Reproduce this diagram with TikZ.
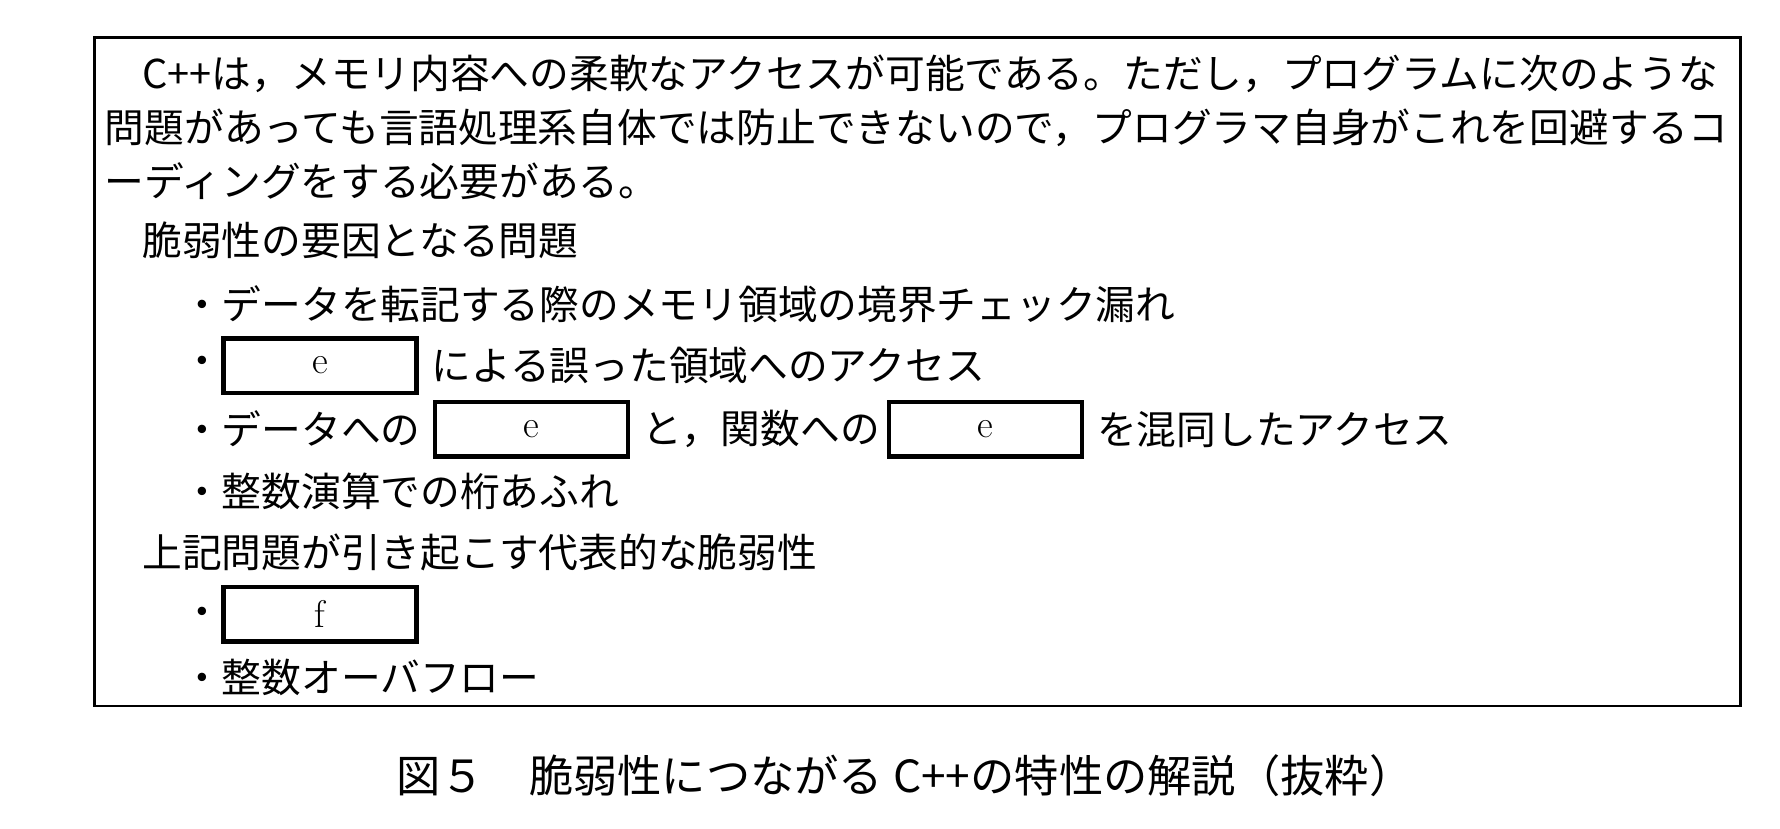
\documentclass[tikz,border=0pt]{standalone}
\usepackage{fontspec}
\newfontfamily\jp{Noto Sans CJK JP}
\newfontfamily\jpmid{Noto Sans CJK JP Medium}
\tikzset{
  txt/.style={anchor=west, inner sep=0pt, font=\jp\fontsize{17.5pt}{20pt}\selectfont},
  blank/.style={draw, line width=2pt, minimum width=85pt, minimum height=24pt, inner sep=0pt, font=\fontsize{17pt}{20pt}\selectfont},
  capt/.style={inner sep=0pt, font=\jp\fontsize{19.5pt}{22pt}\selectfont}
}
\begin{document}
\begin{tikzpicture}[x=0.5pt,y=-0.5pt]
\useasboundingbox (0,0) rectangle (1568,730);
% Frame
\draw[line width=1.2pt] (83,33) rectangle (1533,622);

% Text lines
\node[txt] (l1) at (125,65) {C++は，メモリ内容への柔軟なアクセスが可能である。ただし，プログラムに次のような};
\node[txt] (l2) at (92,113) {問題があっても言語処理系自体では防止できないので，プログラマ自身がこれを回避するコ};
\node[txt] (l3) at (92,160) {ーディングをする必要がある。};
\node[txt] (h1) at (125,212) {脆弱性の要因となる問題};
\node[txt] (b1) at (160,268) {・データを転記する際のメモリ領域の境界チェック漏れ};
\node[txt] (b2) at (160,322) {・};
\node[blank] (e1) at (282,322) {e};
\node[txt] (b2t) at (380,322) {による誤った領域へのアクセス};
\node[txt] (b3) at (160,378) {・データへの};
\node[blank] (e2) at (468,378) {e};
\node[txt] (b3t) at (566,378) {と，関数への};
\node[blank] (e3) at (868,378) {e};
\node[txt] (b3u) at (966,378) {を混同したアクセス};
\node[txt] (b4) at (160,433) {・整数演算での桁あふれ};
\node[txt] (h2) at (125,487) {上記問題が引き起こす代表的な脆弱性};
\node[txt] (c1) at (160,543) {・};
\node[blank] (f1) at (282,541) {f};
\node[txt] (c2) at (160,597) {・整数オーバフロー};

% Caption
\node[capt] (cap) at (797,683) {図５\hspace{1em}脆弱性につながる C++の特性の解説（抜粋）};
\end{tikzpicture}
\end{document}
